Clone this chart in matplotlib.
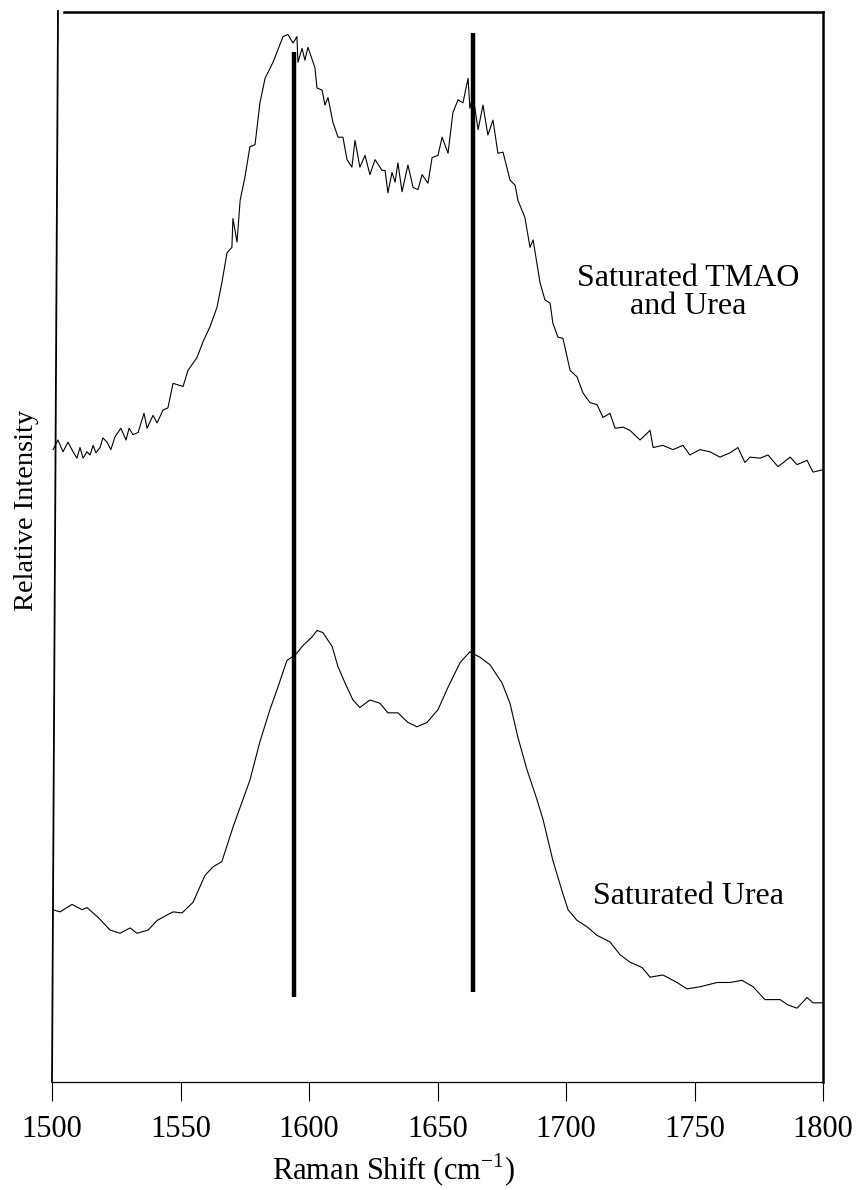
import numpy as np
import matplotlib
matplotlib.use("Agg")
import matplotlib.pyplot as plt
from matplotlib.lines import Line2D

plt.rcParams['font.family'] = ['Liberation Serif', 'DejaVu Serif']
plt.rcParams['mathtext.fontset'] = 'custom'
plt.rcParams['mathtext.rm'] = 'Liberation Serif'

# Saturated TMAO and Urea (upper trace)
tmao_x = [1500.4, 1502.3, 1504.3, 1506.2, 1508.2, 1509.7, 1510.9, 1512.1, 1513.6, 1514.8,
          1516.0, 1517.1, 1518.7, 1519.8, 1521.4, 1522.9, 1524.5, 1526.8, 1528.8, 1530.0,
          1531.5, 1533.5, 1535.8, 1537.0, 1539.3, 1540.9, 1543.2, 1545.1, 1547.1, 1551.0,
          1552.9, 1556.4, 1558.8, 1561.5, 1564.2, 1566.1,
          1568.1, 1570.0, 1570.4, 1572.0, 1573.2, 1575.1, 1577.0, 1579.0, 1580.9, 1582.9,
          1586.0, 1589.9, 1591.8, 1593.8, 1595.3, 1595.7, 1597.3, 1598.4, 1599.6, 1602.3,
          1603.1, 1605.1, 1606.2, 1607.4, 1609.3, 1611.3, 1613.2, 1614.8, 1616.7, 1617.9,
          1619.8, 1621.8, 1623.7, 1625.7, 1628.4, 1629.6, 1630.7, 1632.3, 1633.5, 1634.6,
          1636.2, 1638.5, 1640.5, 1642.4, 1644.0, 1646.3, 1647.9, 1650.2, 1651.8, 1654.1,
          1656.0, 1658.0, 1659.9, 1661.9, 1662.6, 1663.8, 1665.8, 1667.7, 1669.6, 1671.6,
          1673.5, 1675.5, 1678.2, 1680.2, 1681.3, 1684.0, 1686.0, 1687.2, 1689.9, 1691.8,
          1693.8, 1694.9, 1696.9, 1698.8, 1701.6, 1704.3, 1706.6, 1709.3, 1712.1, 1714.4,
          1717.1, 1719.1, 1722.2, 1724.9, 1728.8, 1732.7, 1733.9, 1737.7, 1741.6, 1745.5,
          1748.2, 1752.1, 1756.0, 1759.9, 1763.8, 1766.9, 1769.6, 1771.6, 1775.5, 1778.6,
          1782.5, 1787.2, 1789.9, 1793.8, 1796.1, 1799.6]
tmao_y = [0.591, 0.600, 0.589, 0.598, 0.589, 0.583, 0.593, 0.583, 0.589, 0.586,
          0.595, 0.588, 0.593, 0.602, 0.598, 0.591, 0.603, 0.611, 0.600, 0.611,
          0.605, 0.607, 0.625, 0.611, 0.623, 0.616, 0.628, 0.630, 0.653, 0.650,
          0.665, 0.677, 0.692, 0.706, 0.724, 0.747,
          0.775, 0.780, 0.807, 0.785, 0.824, 0.846, 0.874, 0.876, 0.915, 0.938,
          0.953, 0.977, 0.979, 0.971, 0.977, 0.953, 0.966, 0.955, 0.967, 0.948,
          0.929, 0.927, 0.913, 0.920, 0.897, 0.883, 0.883, 0.862, 0.855, 0.880,
          0.855, 0.866, 0.848, 0.862, 0.852, 0.852, 0.831, 0.850, 0.841, 0.859,
          0.832, 0.857, 0.836, 0.834, 0.848, 0.840, 0.864, 0.866, 0.883, 0.868,
          0.906, 0.918, 0.915, 0.938, 0.910, 0.922, 0.890, 0.913, 0.885, 0.899,
          0.868, 0.869, 0.843, 0.838, 0.824, 0.808, 0.780, 0.787, 0.747, 0.731,
          0.728, 0.709, 0.696, 0.695, 0.665, 0.659, 0.644, 0.635, 0.633, 0.621,
          0.625, 0.611, 0.612, 0.609, 0.600, 0.609, 0.593, 0.595, 0.591, 0.595,
          0.586, 0.591, 0.589, 0.584, 0.588, 0.593, 0.579, 0.584, 0.583, 0.586,
          0.575, 0.584, 0.577, 0.581, 0.570, 0.572]

# Saturated Urea (lower trace)
urea_x = [1500.4, 1503.1, 1507.8, 1511.7, 1513.6, 1517.9, 1522.6, 1526.5, 1530.4, 1533.1,
          1537.4, 1540.9, 1544.7, 1547.1, 1550.6, 1554.9, 1559.5, 1562.6, 1566.1, 1570.4,
          1577.0, 1580.9, 1584.8, 1587.9, 1591.4, 1594.6, 1597.7, 1601.2, 1603.1, 1605.4,
          1609.0, 1611.3, 1614.0, 1617.1, 1619.8, 1623.7, 1627.6, 1630.7, 1634.6, 1638.5,
          1642.0, 1645.9, 1650.2, 1654.1, 1658.8, 1662.6, 1666.5, 1670.4, 1675.1, 1678.2,
          1681.3, 1684.8, 1688.7, 1691.1, 1694.9, 1698.4, 1700.8, 1704.3, 1708.2, 1712.1,
          1717.1, 1721.0, 1724.9, 1729.6, 1732.7, 1737.7, 1743.2, 1747.1, 1752.1, 1758.8,
          1763.8, 1768.5, 1772.8, 1777.4, 1783.3, 1786.4, 1789.9, 1793.8, 1796.1, 1799.6]
urea_y = [0.161, 0.159, 0.166, 0.161, 0.163, 0.154, 0.142, 0.139, 0.144, 0.139,
          0.142, 0.151, 0.156, 0.159, 0.158, 0.168, 0.193, 0.201, 0.206, 0.238,
          0.282, 0.318, 0.348, 0.369, 0.394, 0.399, 0.408, 0.416, 0.422, 0.420,
          0.407, 0.388, 0.373, 0.357, 0.350, 0.357, 0.354, 0.345, 0.345, 0.336,
          0.332, 0.336, 0.348, 0.369, 0.392, 0.402, 0.397, 0.390, 0.373, 0.354,
          0.322, 0.292, 0.264, 0.245, 0.207, 0.179, 0.161, 0.151, 0.145, 0.137,
          0.131, 0.119, 0.112, 0.107, 0.098, 0.100, 0.093, 0.087, 0.089, 0.093,
          0.093, 0.095, 0.089, 0.077, 0.077, 0.072, 0.069, 0.079, 0.074, 0.074]

# marker lines: position, top, bottom
marker_pos = [1594, 1664]
marker_top = [0.963, 0.980]
marker_bottom = [0.079, 0.084]

xticks = [1500, 1550, 1600, 1650, 1700, 1750, 1800]

fig = plt.figure(figsize=(8.61, 11.90), dpi=100)
ax = fig.add_axes([52 / 861, 1 - 1082 / 1190, 771 / 861, 1070 / 1190])

ax.plot(tmao_x, tmao_y, color='black', lw=0.8)
ax.plot(urea_x, urea_y, color='black', lw=0.8)
ax.vlines(marker_pos, marker_bottom, marker_top, color='black', lw=3.2)

ax.set_xlim(1500, 1800)
ax.set_ylim(0, 1)
ax.set_xticks(xticks)
ax.set_yticks([])
ax.tick_params(axis='x', direction='out', length=14, width=0.8, pad=10, labelsize=22)

# frame: slanted left edge, separate top edge
ax.spines['left'].set_visible(False)
ax.spines['top'].set_visible(False)
ax.spines['right'].set_linewidth(1.8)
ax.spines['bottom'].set_linewidth(0.9)
ax.add_line(Line2D([0.0078, 0.0], [1.001, 0.0], transform=ax.transAxes,
                   color='black', lw=1.3, clip_on=False))
ax.add_line(Line2D([0.0156, 1.0], [1.0, 1.0], transform=ax.transAxes,
                   color='black', lw=1.8, clip_on=False))

ax.text(1747.5, 0.738, "Saturated TMAO\nand Urea", ha='center', va='center',
        multialignment='center', fontsize=23, linespacing=0.95)
ax.text(1747.5, 0.173, "Saturated Urea", ha='center', va='center', fontsize=23)

fig.text(27 / 861, 1 - 510 / 1190, "Relative Intensity", rotation=90,
         ha='center', va='center', fontsize=20.5)
fig.text(393 / 861, 1 - 1170 / 1190, r"Raman Shift (cm$^{\mathregular{-1}}$)",
         ha='center', va='center', fontsize=22)

fig.savefig("out.png", dpi=100)
